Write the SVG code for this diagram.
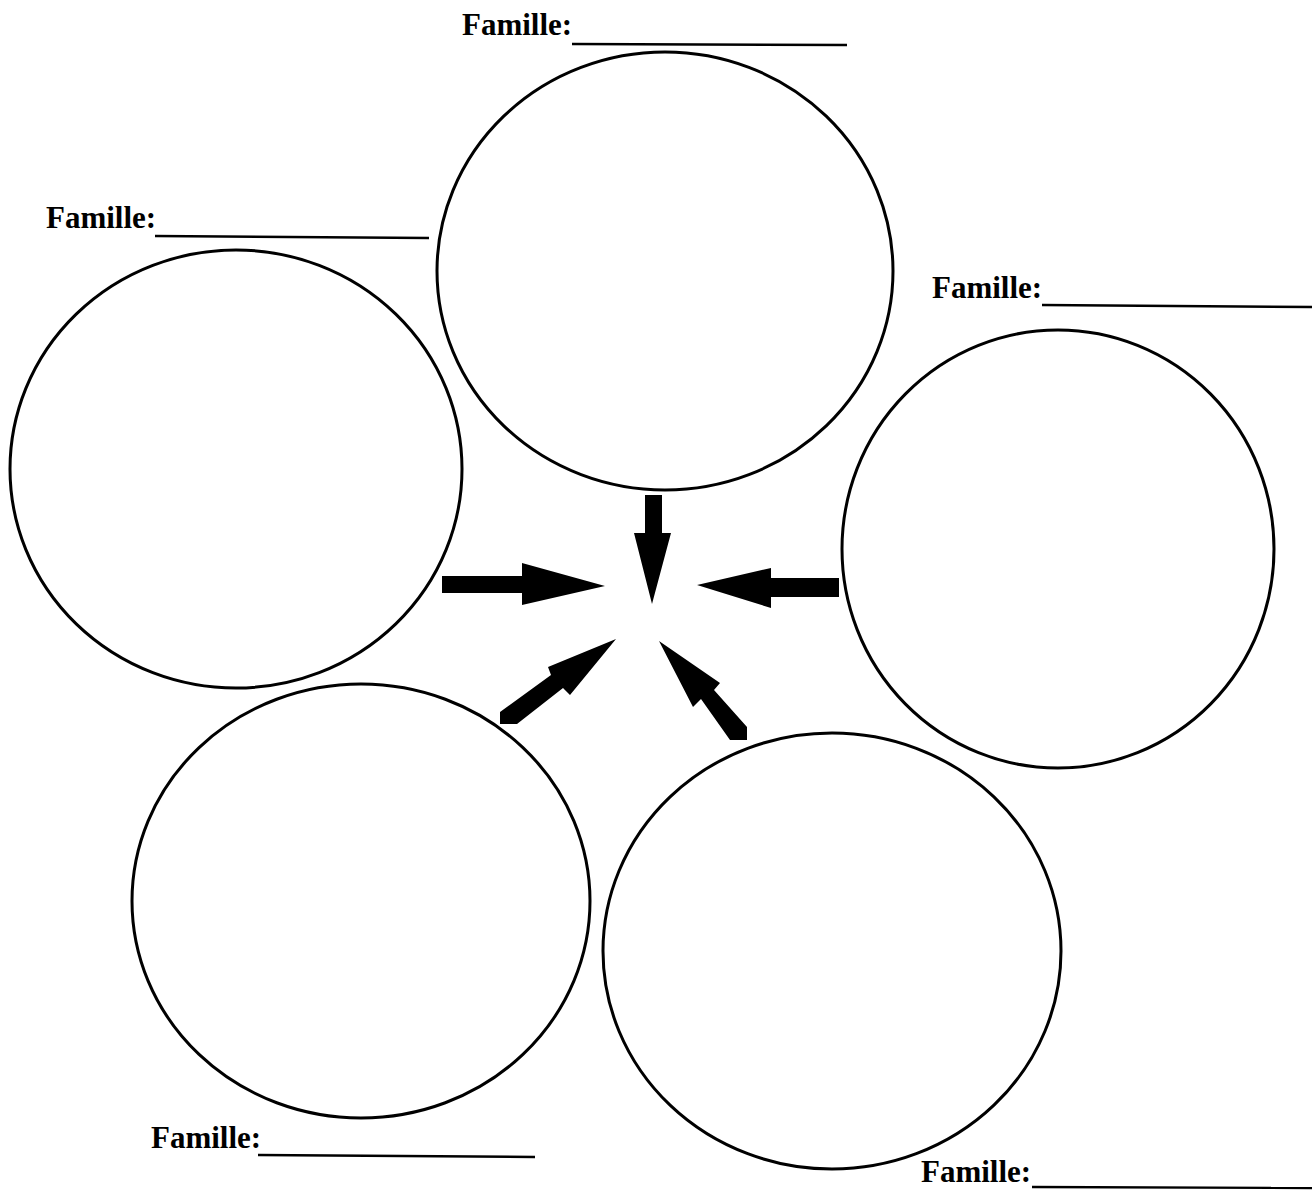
<svg xmlns="http://www.w3.org/2000/svg" width="1312" height="1191" viewBox="0 0 1312 1191">
  <style>
    .ring { fill: none; stroke: #000; stroke-width: 3; }
    .label { font-family: "Liberation Serif", "Times New Roman", serif; font-size: 31px; font-weight: bold; fill: #000; }
    .blank { stroke: #000; stroke-width: 2.4; }
    .arrow { fill: #000; }
  </style>
  <rect width="1312" height="1191" fill="#fff"/>

  <g id="node-top">
    <ellipse class="ring" cx="665" cy="271" rx="228" ry="219"/>
    <text class="label" x="462" y="35">Famille:</text>
    <line class="blank" x1="572" y1="44" x2="847" y2="45"/>
  </g>

  <g id="node-left">
    <ellipse class="ring" cx="236" cy="469" rx="226" ry="219"/>
    <text class="label" x="46" y="228">Famille:</text>
    <line class="blank" x1="155" y1="236" x2="429" y2="238"/>
  </g>

  <g id="node-right">
    <ellipse class="ring" cx="1058" cy="549" rx="216" ry="219"/>
    <text class="label" x="932" y="298">Famille:</text>
    <line class="blank" x1="1042" y1="305" x2="1312" y2="307"/>
  </g>

  <g id="node-bottom-left">
    <ellipse class="ring" cx="361" cy="901" rx="229" ry="217"/>
    <text class="label" x="151" y="1148">Famille:</text>
    <line class="blank" x1="258" y1="1155" x2="535" y2="1157"/>
  </g>

  <g id="node-bottom-right">
    <ellipse class="ring" cx="832" cy="951" rx="229" ry="218"/>
    <text class="label" x="921" y="1182">Famille:</text>
    <line class="blank" x1="1032" y1="1187" x2="1312" y2="1188"/>
  </g>

  <g id="connectors">
    <!-- from top circle, pointing down -->
    <polygon class="arrow" points="652,604 634,533 645,533 645,495 662,495 662,533 671,533"/>
    <!-- from left circle, pointing right -->
    <polygon class="arrow" points="605,586 522,563 522,576 442,576 442,593 522,593 522,605"/>
    <!-- from right circle, pointing left -->
    <polygon class="arrow" points="697,585 771,568 771,578 839,578 839,597 771,597 771,608"/>
    <!-- from bottom-left circle -->
    <polygon class="arrow" points="616,639 570,695 563,688 517,724 500,724 500,712 551,675 548,667"/>
    <!-- from bottom-right circle -->
    <polygon class="arrow" points="659,641 720,683 714,690 747,727 747,740 730,740 701,699 693,707"/>
  </g>
</svg>
